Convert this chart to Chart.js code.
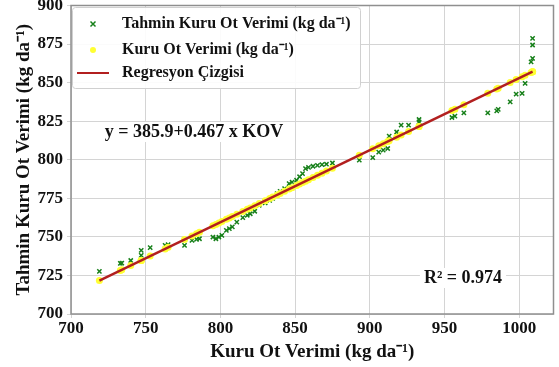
<!DOCTYPE html>
<html>
<head>
<meta charset="utf-8">
<script src="https://cdn.jsdelivr.net/npm/chart.js@4.4.1/dist/chart.umd.min.js"></script>
<style>
  html, body { margin: 0; padding: 0; background: #fff; }
  #wrap { width: 559px; height: 367px; position: relative; }
</style>
</head>
<body>
<div id="wrap"><canvas id="kov-canvas"></canvas></div>
<script>
// observed dry hay yield (x) shared by the two point series
const kovX = [
  719, 733, 734, 740, 747, 747, 747, 753, 763, 765,
  776, 781, 784, 786, 795, 797, 799, 801, 804, 806,
  808, 811, 815, 818, 820, 823, 826, 830, 833, 835,
  838, 840, 843, 846, 848, 851, 853, 855, 857, 859,
  862, 865, 868, 871, 875, 893, 902, 906, 909, 912,
  913, 918, 921, 926, 933, 933, 955, 957, 963, 979,
  985, 986, 994, 998, 1002, 1004, 1008, 1009, 1009, 1009,
];
// predicted yield (green crosses)
const tahminY = [
  727.6, 732.8, 733.0, 734.7, 735.2, 738.0, 741.2, 743.0, 744.5, 745.0,
  744.5, 747.7, 748.4, 748.8, 749.9, 748.8, 749.9, 751.0, 754.2, 755.3,
  756.5, 759.6, 762.5, 764.0, 765.0, 766.6, 770.5, 772.0, 773.7, 775.0,
  778.0, 779.5, 781.3, 784.5, 785.5, 786.7, 789.0, 791.0, 794.3, 795.0,
  795.8, 796.4, 796.8, 797.1, 797.9, 799.7, 801.4, 805.0, 806.2, 807.3,
  815.3, 818.0, 822.4, 822.4, 824.5, 826.1, 827.4, 828.3, 830.4, 830.4,
  831.7, 832.6, 837.5, 842.5, 843.0, 849.5, 863.5, 865.7, 874.4, 878.7,
];
// yellow points, lying on the fitted line
const kuruY = [
  721.7, 728.2, 728.7, 731.5, 734.7, 734.7, 734.7, 737.6, 742.2, 743.2,
  748.3, 750.6, 752.0, 753.0, 757.2, 758.1, 759.0, 760.0, 761.4, 762.3,
  763.2, 764.6, 766.5, 767.9, 768.8, 770.2, 771.6, 773.5, 774.9, 775.8,
  777.2, 778.2, 779.6, 781.0, 781.9, 783.3, 784.3, 785.2, 786.1, 787.1,
  788.5, 789.9, 791.3, 792.7, 794.5, 802.9, 807.1, 809.0, 810.4, 811.8,
  812.3, 814.6, 816.0, 818.3, 821.6, 821.6, 831.9, 832.8, 835.6, 843.1,
  845.9, 846.4, 850.1, 852.0, 853.8, 854.8, 856.6, 857.1, 857.1, 857.1,
];
// regression line end points
const regX = [719, 1009];
const regY = [721.7, 857.1];

const xTicks = [700, 750, 800, 850, 900, 950, 1000];
const yTicks = [700, 725, 750, 775, 800, 825, 850, 875, 900];

const seriesLabels = [
  'Tahmin Kuru Ot Verimi (kg da\u207B\u00B9)',
  'Kuru Ot Verimi (kg da\u207B\u00B9)',
  'Regresyon \u00C7izgisi',
];
const eqText = 'y = 385.9+0.467 x KOV';
const r2Text = 'R\u00B2 = 0.974';

const FONT = '"Liberation Serif", "Times New Roman", serif';
const GREEN = '#17801a';
const YELLOW = '#ffff33';
const RED = '#b21f1f';

const pts = (xs, ys) => xs.map((x, i) => ({ x, y: ys[i] }));

function drawCross(ctx, x, y, r) {
  ctx.save();
  ctx.strokeStyle = GREEN;
  ctx.lineWidth = 1.5;
  ctx.beginPath();
  ctx.moveTo(x - r, y - r); ctx.lineTo(x + r, y + r);
  ctx.moveTo(x - r, y + r); ctx.lineTo(x + r, y - r);
  ctx.stroke();
  ctx.restore();
}

function textBox(ctx, txt, cx, cy) {
  ctx.font = 'bold 18px ' + FONT;
  const w = ctx.measureText(txt).width;
  ctx.fillStyle = '#fff';
  ctx.fillRect(cx - w / 2 - 4, cy - 10, w + 8, 20);
  ctx.fillStyle = '#111';
  ctx.textAlign = 'center';
  ctx.textBaseline = 'middle';
  ctx.fillText(txt, cx, cy);
}

const extrasPlugin = {
  id: 'extras',
  afterDatasetsDraw(chart) {
    const { ctx, chartArea: a } = chart;
    ctx.save();
    // frame
    ctx.strokeStyle = '#8f8f8f';
    ctx.lineWidth = 1.5;
    ctx.strokeRect(a.left, a.top, a.right - a.left, a.bottom - a.top);

    // annotations
    textBox(ctx, eqText, 194, 132);
    textBox(ctx, r2Text, 463, 278);

    // legend
    ctx.fillStyle = 'rgba(255,255,255,0.9)';
    ctx.strokeStyle = '#d0d0d0';
    ctx.lineWidth = 1;
    ctx.beginPath();
    ctx.roundRect(72.5, 7.5, 288, 81, 3);
    ctx.fill();
    ctx.stroke();

    const rows = [24, 50, 73];
    drawCross(ctx, 93, rows[0], 2.5);
    ctx.fillStyle = YELLOW;
    ctx.beginPath();
    ctx.arc(93, rows[1], 3, 0, Math.PI * 2);
    ctx.fill();
    ctx.strokeStyle = RED;
    ctx.lineWidth = 2;
    ctx.beginPath();
    ctx.moveTo(77, rows[2]); ctx.lineTo(109, rows[2]);
    ctx.stroke();

    ctx.font = 'bold 16px ' + FONT;
    ctx.fillStyle = '#111';
    ctx.textAlign = 'left';
    ctx.textBaseline = 'middle';
    seriesLabels.forEach((l, i) => ctx.fillText(l, 122, rows[i]));
    ctx.restore();
  },
};

const tickFont = { family: FONT, size: 17, weight: 'bold' };
const titleFont = { family: FONT, size: 19, weight: 'bold' };

new Chart(document.getElementById('kov-canvas'), {
  type: 'scatter',
  data: {
    datasets: [
      {
        label: seriesLabels[0],
        data: pts(kovX, tahminY),
        pointStyle: 'crossRot',
        pointRadius: 3,
        borderColor: GREEN,
        backgroundColor: GREEN,
        borderWidth: 1.5,
        order: 2,
      },
      {
        label: seriesLabels[1],
        data: pts(kovX, kuruY),
        pointStyle: 'circle',
        pointRadius: 3.5,
        borderWidth: 0,
        backgroundColor: YELLOW,
        borderColor: YELLOW,
        order: 1,
      },
      {
        type: 'line',
        label: seriesLabels[2],
        data: pts(regX, regY),
        borderColor: RED,
        borderWidth: 2.5,
        pointRadius: 0,
        fill: false,
        order: 0,
      },
    ],
  },
  options: {
    responsive: true,
    maintainAspectRatio: false,
    animation: false,
    layout: { padding: { top: 5.5, right: 3, left: 0, bottom: 0 } },
    plugins: { legend: { display: false }, tooltip: { enabled: false } },
    scales: {
      x: {
        type: 'linear',
        min: 700,
        max: 1023,
        afterBuildTicks: s => { s.ticks = xTicks.map(v => ({ value: v })); },
        afterFit: s => { s.height = 53; s.paddingLeft = 0; s.paddingRight = 0; },
        ticks: { font: tickFont, color: '#111', padding: 0, maxRotation: 0, callback: v => String(v) },
        grid: { color: '#d4d4d4', tickLength: 4 },
        border: { display: false },
        title: {
          display: true,
          text: 'Kuru Ot Verimi (kg da\u207B\u00B9)',
          font: titleFont,
          color: '#111',
          padding: { top: 0, bottom: 4 },
        },
      },
      y: {
        min: 700,
        max: 900,
        afterBuildTicks: s => { s.ticks = yTicks.map(v => ({ value: v })); },
        afterFit: s => { s.width = 71; s.paddingTop = 0; s.paddingBottom = 0; },
        ticks: { font: tickFont, color: '#111', padding: 4, callback: v => String(v) },
        grid: { color: '#d4d4d4', tickLength: 4 },
        border: { display: false },
        title: {
          display: true,
          text: 'Tahmin Kuru Ot Verimi (kg da\u207B\u00B9)',
          font: titleFont,
          color: '#111',
          padding: { top: 13, bottom: 0 },
        },
      },
    },
  },
  plugins: [extrasPlugin],
});
</script>
</body>
</html>
